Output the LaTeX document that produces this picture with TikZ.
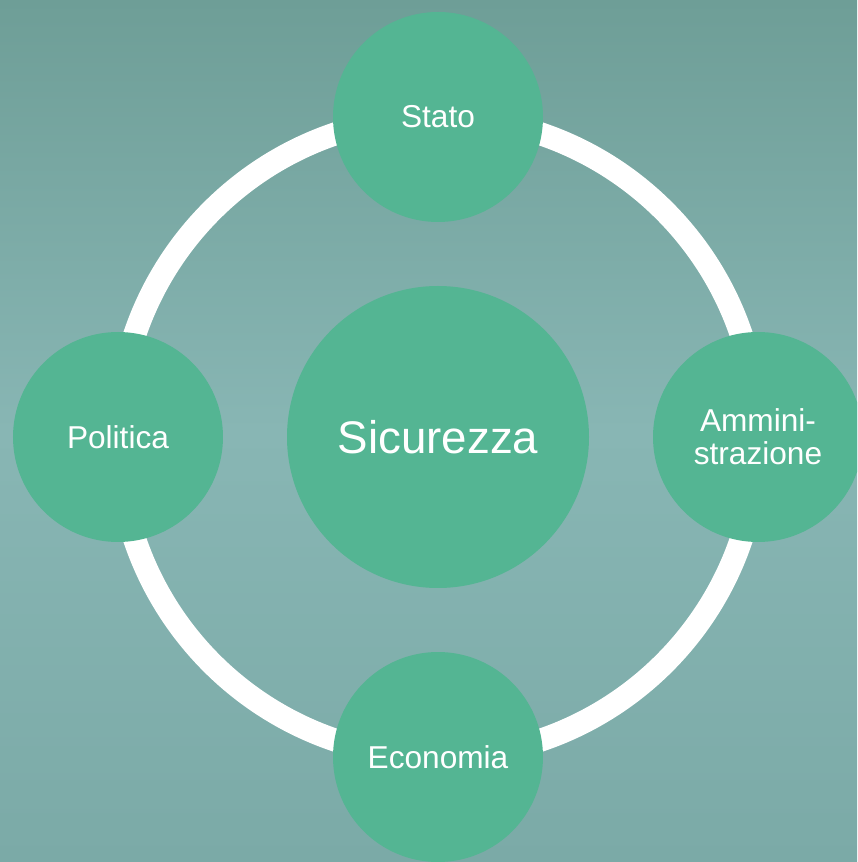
\documentclass[tikz,border=0pt]{standalone}
\usepackage{fontspec}
\setmainfont{Liberation Sans}
\definecolor{bgteal}{HTML}{7BAAA7}
\definecolor{bgdark}{HTML}{6E9E97}
\definecolor{bglight}{HTML}{88B6B4}
\definecolor{tilegreen}{HTML}{54B593}
\tikzset{
  tile/.style={circle,fill=tilegreen,text=white,minimum size=4.2cm,inner sep=0pt,align=center,font=\fontsize{18}{19}\selectfont},
  core/.style={tile,minimum size=6.04cm,font=\fontsize{26}{28}\selectfont},
  ring/.style={white,line width=0.46cm}
}
\begin{document}
\begin{tikzpicture}
\clip (-8.76,-8.5) rectangle (8.38,8.74);
\useasboundingbox (-8.76,-8.5) rectangle (8.38,8.74);
\shade[top color=bgdark,bottom color=bgteal,middle color=bglight] (-8.76,-8.5) rectangle (8.38,8.74);
\node[core] (sic) at (0,0){Sicurezza};
\draw[ring] (sic) circle[radius=6.4];
\node[tile] (stato) at (0,6.4){Stato};
\node[tile] (amm) at (6.4,0){Ammini-\\strazione};
\node[tile] (eco) at (0,-6.4){Economia};
\node[tile] (pol) at (-6.4,0){Politica};
\end{tikzpicture}
\end{document}
